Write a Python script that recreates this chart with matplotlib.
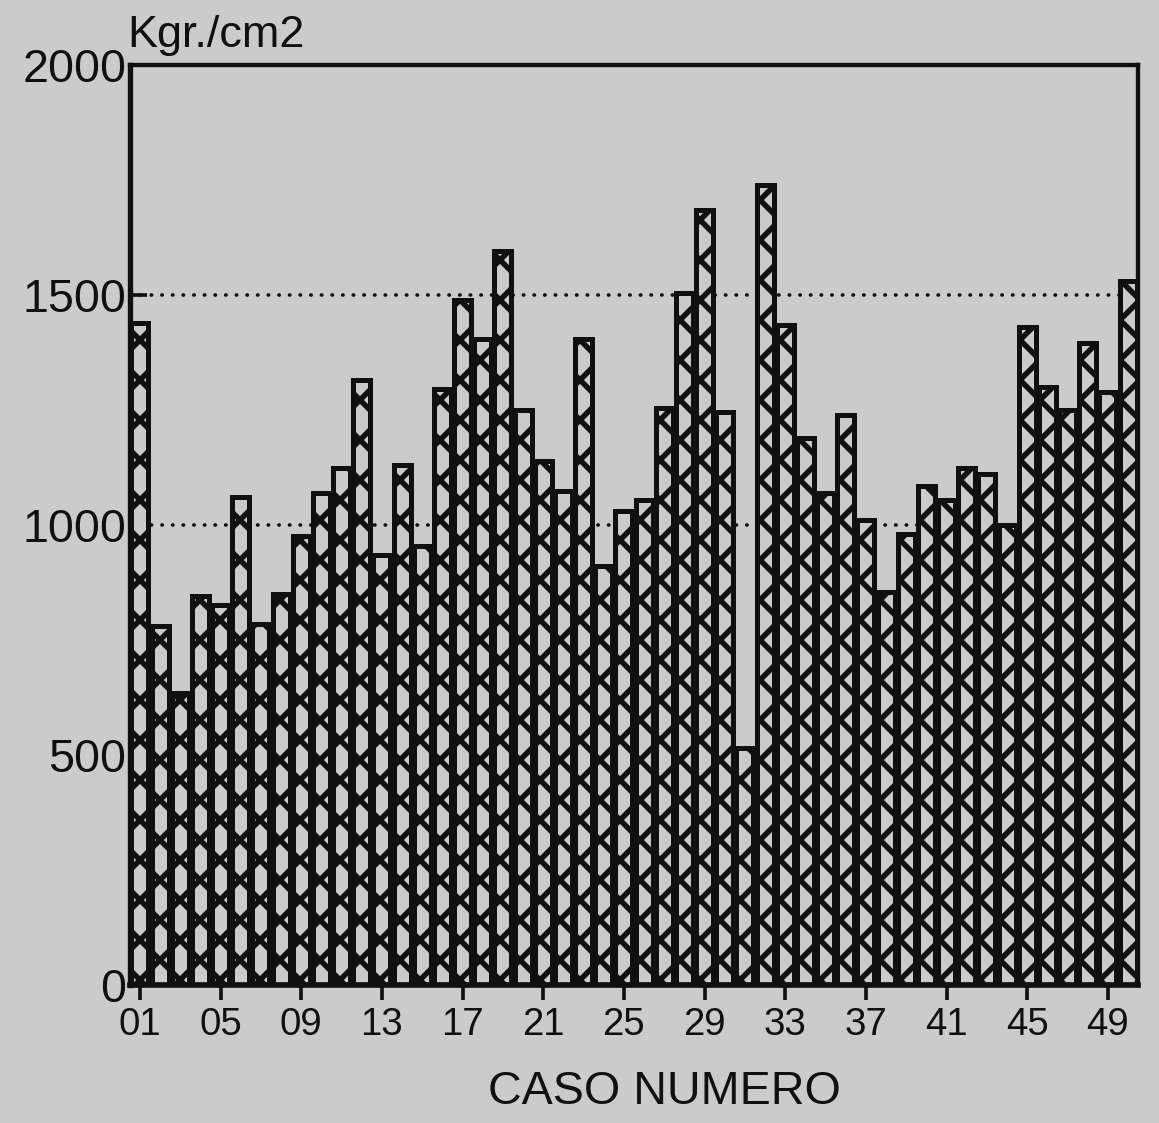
import matplotlib
matplotlib.use("Agg")
import matplotlib.pyplot as plt

# Compression strength per case (Kgr./cm2)
CASES = list(range(1, 51))
STRENGTH = [1440, 780, 635, 845, 825, 1060, 785, 850, 975, 1070,
            1125, 1315, 935, 1130, 955, 1295, 1490, 1405, 1595, 1250,
            1140, 1075, 1405, 910, 1030, 1055, 1255, 1505, 1685, 1245,
            515, 1740, 1435, 1190, 1070, 1240, 1010, 855, 980, 1085,
            1055, 1125, 1110, 1000, 1430, 1300, 1250, 1395, 1290, 1530]
X_TICKS = list(range(1, 50, 4))
X_TICK_LABELS = ["%02d" % n for n in X_TICKS]
Y_TICKS = [0, 500, 1000, 1500, 2000]
GRID_LEVELS = [1000, 1500]

## Style
DPI = 120
PAPER = "#cbcbcb"
INK = "#101010"

plt.rcParams["font.family"] = ["Liberation Sans", "DejaVu Sans"]
plt.rcParams["hatch.linewidth"] = 3.3

fig = plt.figure(figsize=(1159 / DPI, 1123 / DPI), dpi=DPI)
fig.set_facecolor(PAPER)
ax = fig.add_axes([0.112, 0.123, 0.870, 0.819])
ax.set_facecolor(PAPER)

# Dotted reference lines behind the bars
for level in GRID_LEVELS:
    ax.axhline(level, color=INK, linewidth=2.2, linestyle=(0, (0.1, 2.8)),
               dash_capstyle="round", zorder=1)

ax.bar(CASES, STRENGTH, width=0.84, color=PAPER, edgecolor=INK,
       linewidth=3.0, hatch="x", zorder=2)

ax.set_xlim(0.5, 50.5)
ax.set_ylim(0, 2000)

ax.set_xticks(X_TICKS)
ax.set_xticklabels(X_TICK_LABELS)
ax.set_yticks(Y_TICKS)
ax.tick_params(axis="x", direction="out", length=9, width=2.2, colors=INK,
               labelsize=23, pad=4)
ax.tick_params(axis="y", direction="in", length=10, width=2.2, colors=INK,
               labelsize=28, pad=2)

for side in ["top", "bottom", "left", "right"]:
    ax.spines[side].set_color(INK)
    ax.spines[side].set_linewidth(2.6)
ax.spines["left"].set_linewidth(3.2)
ax.spines["bottom"].set_linewidth(3.4)

fig.text(127 / 1159, 1 - 36 / 1123, "Kgr./cm2", ha="left", va="center",
         fontsize=27, color=INK)
fig.text(664 / 1159, 1 - 1092 / 1123, "CASO NUMERO", ha="center",
         va="center", fontsize=28, color=INK)

fig.savefig("out.png", dpi=DPI, facecolor=PAPER)
